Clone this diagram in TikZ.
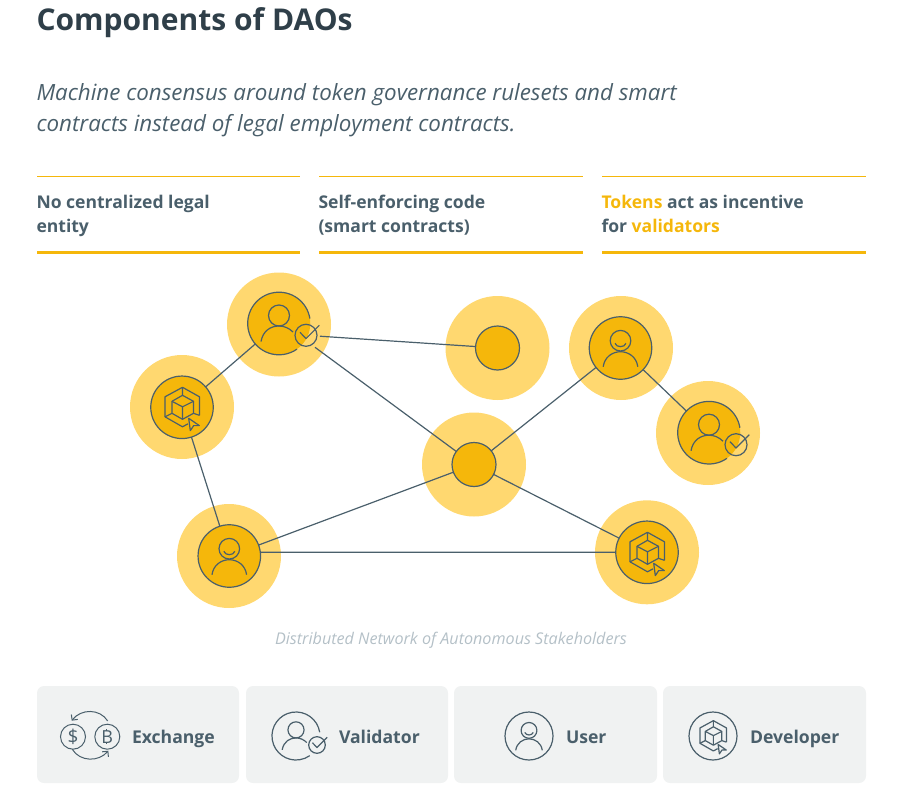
\documentclass[tikz,border=0pt]{standalone}
\usepackage{fontspec}
\setmainfont{Open Sans}
\usetikzlibrary{arrows.meta}
\definecolor{ink}{HTML}{4A5F6B}
\definecolor{titleink}{HTML}{2F3F49}
\definecolor{gold}{HTML}{F5B70B}
\definecolor{halo}{HTML}{FFD870}
\definecolor{panel}{HTML}{F0F2F2}
\definecolor{faint}{HTML}{B4C0C7}
\def\cursorfill{gold}
\tikzset{
  x=1pt,y=-1pt,
  txt/.style={anchor=base west,inner sep=0,outer sep=0},
  titletxt/.style={txt,font=\fontsize{30}{34}\selectfont\bfseries,text=titleink},
  subtxt/.style={txt,font=\fontsize{22.35}{26}\selectfont\itshape,text=ink},
  coltxt/.style={txt,font=\fontsize{17.55}{20}\selectfont\bfseries,text=ink},
  legtxt/.style={txt,font=\fontsize{17.6}{20}\selectfont\bfseries,text=ink},
  captxt/.style={anchor=base,inner sep=0,font=\fontsize{16.15}{18}\selectfont\itshape,text=faint},
  halodisc/.style={circle,fill=halo,minimum size=104pt,inner sep=0,outer sep=0},
  coin/.style={circle,fill=gold,draw=ink,line width=1.2pt,minimum size=62.5pt,inner sep=0,outer sep=0},
  coinopen/.style={circle,fill=gold,minimum size=62.5pt,inner sep=0,outer sep=0},
  hub/.style={circle,fill=gold,draw=ink,line width=1.2pt,minimum size=44pt,inner sep=0,outer sep=0},
  badge/.style={circle,draw=ink,line width=1.2pt,minimum size=22pt,inner sep=0,outer sep=0},
  link/.style={draw=ink,line width=1.2pt},
  glyph/.style={draw=ink,line width=1.2pt,line join=round},
  thinrule/.style={draw=gold,line width=1pt},
  thickrule/.style={draw=gold,line width=3pt},
  card/.style={fill=panel,rounded corners=7pt},
  legcircle/.style={circle,draw=ink,line width=1.2pt,minimum size=48pt,inner sep=0,outer sep=0},
  money/.style={circle,draw=ink,line width=1pt,minimum size=25pt,inner sep=0,outer sep=0,text=ink},
  pics/head/.style={code={
    \draw[glyph] (0,-8) circle (10.5);
    \draw[glyph] (-18,18) .. controls (-16,7) and (-8,2.5) .. (0,2.5) .. controls (5,2.5) and (10,4.5) .. (14,8.5);
  }},
  pics/personsmile/.style={code={
    \draw[glyph] (0,-7.3) circle (10.3);
    \draw[glyph] (-5.5,-4.7) .. controls (-4,-0.2) and (4,-0.2) .. (5.5,-4.7);
    \draw[glyph] (-17.3,18.7) .. controls (-16,9) and (-8,3.7) .. (0,3.7) .. controls (8,3.7) and (16,9) .. (17.3,18.7);
  }},
  pics/gapring/.style={code={
    \draw[glyph] (30.9,-4.9) arc[start angle=-9,end angle=-305,radius=31.3];
  }},
  pics/tick/.style={code={
    \draw[glyph] (-6,-3) -- (0,3.3) -- (13.3,-10);
  }},
  pics/cube/.style={code={
    \draw[glyph] (17.5,8) -- (17.5,-10.5) -- (0.5,-20) -- (-17,-10.5) -- (-17,9.5) -- (0.5,19.5) -- (6,16.5);
    \draw[glyph] (0.5,-12) -- (-10,-6) -- (-10,6) -- (0.5,12) -- (11.5,6) -- (11.5,-6) -- cycle;
    \draw[glyph] (-10,-6) -- (0.5,-0.5) -- (11.5,-6) (0.5,-0.5) -- (0.5,12);
    \draw[glyph] (-17,9.5) -- (-10,6) (11.5,6) -- (17.5,8) (0.5,-20) -- (0.5,-12);
    \draw[glyph,fill=\cursorfill] (6.7,11) -- (17.3,18.3) -- (11.7,18.3) -- (8.3,23.3) -- cycle;
  }},
}
\begin{document}
\begin{tikzpicture}
\useasboundingbox (0,0) rectangle (901,810);
% headings
\node[titletxt] (title) at (36.5,31) {Components of DAOs};
\node[subtxt] (subA) at (36.5,101) {Machine consensus around token governance rulesets and smart};
\node[subtxt] (subB) at (36.5,132) {contracts instead of legal employment contracts.};
% columns
\foreach \a/\b in {37/300,319/583,602/866}{
  \draw[thinrule] (\a,176.5) -- (\b,176.5);
  \draw[thickrule] (\a,252) -- (\b,252);
}
\node[coltxt] (c1a) at (36.5,208.5) {No centralized legal};
\node[coltxt] (c1b) at (36.5,232.5) {entity};
\node[coltxt] (c2a) at (318.5,208.5) {Self-enforcing code};
\node[coltxt] (c2b) at (318.5,232.5) {(smart contracts)};
\node[coltxt] (c3a) at (601.5,208.5) {\textcolor{gold}{Tokens} act as incentive};
\node[coltxt] (c3b) at (601.5,232.5) {for \textcolor{gold}{validators}};
% halos
\node[halodisc] (hV) at (279,324.5) {};
\node[halodisc] (hD) at (182,407) {};
\node[halodisc] (hB) at (497.5,348) {};
\node[halodisc] (hU) at (621,348) {};
\node[halodisc] (hW) at (708,433) {};
\node[halodisc] (hC) at (474,464.5) {};
\node[halodisc] (hL) at (229,556) {};
\node[halodisc] (hR) at (647,552.3) {};
% discs
\node[coinopen] (val) at (279,323.5) {};
\node[coin] (dev) at (182,407.3) {};
\node[hub] (blank) at (497.5,348) {};
\node[coin] (usr) at (620.5,348) {};
\node[coinopen] (valb) at (709,432.7) {};
\node[hub] (mid) at (474,464.5) {};
\node[coin] (low) at (229.3,556) {};
\node[coin] (devb) at (647,552.3) {};
\node[badge] (chk) at (306,335.3) {};
\node[badge] (chkb) at (736,444.7) {};
\coordinate (port) at (315,347.3);
% connectors
\draw[link] (dev) -- (val);
\draw[link] (dev) -- (low);
\draw[link,shorten <=3pt] (chk) -- (blank);
\draw[link] (port) -- (mid);
\draw[link] (mid) -- (usr);
\draw[link] (usr) -- (valb);
\draw[link] (mid) -- (low);
\draw[link] (mid) -- (devb);
\draw[link] (low.7) -- (devb.180);
% glyphs
\pic at (val) {head};
\pic at (val) {gapring};
\pic at (chk) {tick};
\pic at (dev) {cube};
\pic at (usr) {personsmile};
\pic at (valb) {head};
\pic at (valb) {gapring};
\pic at (chkb) {tick};
\pic at (low) {personsmile};
\pic at (devb) {cube};
% caption
\node[captxt] (cap) at (451,644) {Distributed Network of Autonomous Stakeholders};
% legend
\fill[card] (37,686) rectangle (239,783);
\fill[card] (246,686) rectangle (448,783);
\fill[card] (454,686) rectangle (657,783);
\fill[card] (663,686) rectangle (866,783);
\def\cursorfill{panel}
% exchange
\node[money] (dollar) at (73,736.7) {\fontsize{19}{19}\selectfont\$};
\node[money] (btc) at (107.3,736.7) {\fontsize{18}{18}\selectfont B};
\draw[glyph,line width=1pt] (106,729) -- (106,730.5) (106,742.5) -- (106,744.3);
\draw[glyph,line width=1pt,-{Straight Barb[length=4pt,width=8pt]}] (107.7,721) .. controls (100,708.5) and (81,708.5) .. (71.7,720.7);
\draw[glyph,line width=1pt,-{Straight Barb[length=4pt,width=8pt]}] (72.3,749.3) .. controls (80,762) and (99,762) .. (108.3,750.7);
\node[legtxt] (lx) at (132,743) {Exchange};
% validator
\pic[scale=.767] at (296,736) {head};
\pic[scale=.767] at (296,736) {gapring};
\node[badge,minimum size=16.6pt] (chkc) at (317,745) {};
\pic[scale=.767] at (chkc) {tick};
\node[legtxt] (lv) at (339,743) {Validator};
% user
\node[legcircle] (ringu) at (529,736) {};
\pic[scale=.767] at (ringu) {personsmile};
\node[legtxt] (lu) at (566,743) {User};
% developer
\node[legcircle] (ringd) at (713,736) {};
\pic[scale=.767] at (ringd) {cube};
\node[legtxt] (ld) at (750,743) {Developer};
\end{tikzpicture}
\end{document}
